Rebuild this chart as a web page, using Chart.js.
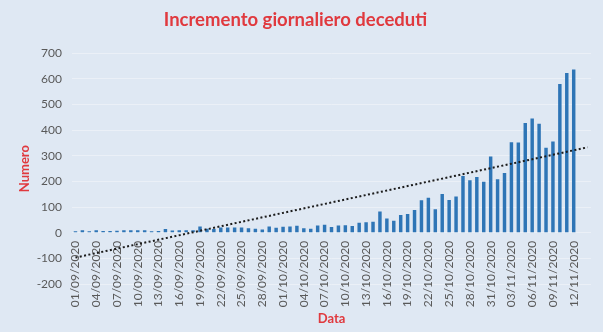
<!DOCTYPE html>
<html>
<head>
<meta charset="utf-8">
<script src="https://cdn.jsdelivr.net/npm/chart.js@4"></script>
<style>
html,body{margin:0;padding:0;background:#dfe8f3;}
#wrap{width:603px;height:332px;}
</style>
</head>
<body>
<div id="wrap"><canvas id="c" width="603" height="332"></canvas></div>
<script>
const categories = [
 '01/09/2020','02/09/2020','03/09/2020','04/09/2020','05/09/2020','06/09/2020','07/09/2020','08/09/2020','09/09/2020','10/09/2020',
 '11/09/2020','12/09/2020','13/09/2020','14/09/2020','15/09/2020','16/09/2020','17/09/2020','18/09/2020','19/09/2020','20/09/2020',
 '21/09/2020','22/09/2020','23/09/2020','24/09/2020','25/09/2020','26/09/2020','27/09/2020','28/09/2020','29/09/2020','30/09/2020',
 '01/10/2020','02/10/2020','03/10/2020','04/10/2020','05/10/2020','06/10/2020','07/10/2020','08/10/2020','09/10/2020','10/10/2020',
 '11/10/2020','12/10/2020','13/10/2020','14/10/2020','15/10/2020','16/10/2020','17/10/2020','18/10/2020','19/10/2020','20/10/2020',
 '21/10/2020','22/10/2020','23/10/2020','24/10/2020','25/10/2020','26/10/2020','27/10/2020','28/10/2020','29/10/2020','30/10/2020',
 '31/10/2020','01/11/2020','02/11/2020','03/11/2020','04/11/2020','05/11/2020','06/11/2020','07/11/2020','08/11/2020','09/11/2020',
 '10/11/2020','11/11/2020','12/11/2020','13/11/2020','14/11/2020'
];
const deceduti = [
 6,10,6,10,7,7,8,10,10,10,
 10,6,7,14,9,10,10,10,24,15,
 14,20,20,20,20,17,15,13,24,19,
 23,24,27,17,15,28,31,22,28,29,
 26,39,41,43,83,55,47,69,73,89,
 127,136,91,151,128,141,221,205,217,199,
 297,208,233,353,352,428,445,425,331,356,
 580,623,636
];
const trendX = ['01/09/2020','14/11/2020'];
const trendY = [-97, 333];
const yTicks = [-200,-100,0,100,200,300,400,500,600,700];

const FONT = 'Lato, "Open Sans", sans-serif';
const RED = '#e0393e';
const GREY = '#595959';

const bg = {
  id:'bg',
  beforeDraw(chart){
    const ctx = chart.ctx;
    ctx.save();
    ctx.fillStyle = '#dfe8f3';
    ctx.fillRect(0,0,chart.width,chart.height);
    ctx.restore();
  }
};

new Chart(document.getElementById('c'), {
  data: {
    labels: categories,
    datasets: [
      {
        type: 'bar',
        label: 'Deceduti',
        data: deceduti,
        backgroundColor: '#2e75b6',
        categoryPercentage: 1,
        barPercentage: 0.5,
        order: 2
      },
      {
        type: 'line',
        label: 'Trend',
        data: trendX.map((x,i)=>({x:x, y:trendY[i]})),
        borderColor: '#1c1c1c',
        borderWidth: 2,
        borderDash: [2,2.4],
        pointRadius: 0,
        fill: false,
        order: 1
      }
    ]
  },
  options: {
    responsive: false,
    animation: false,
    devicePixelRatio: 1,
    layout: { padding: { left: 0, right: 12, top: 9, bottom: 48 } },
    plugins: {
      legend: { display: false },
      tooltip: { enabled: false },
      title: {
        display: true,
        text: 'Incremento giornaliero deceduti',
        color: RED,
        font: { family: FONT, size: 18.5, weight: 'bold' },
        padding: { top: 0, bottom: 22 }
      }
    },
    scales: {
      x: {
        type: 'category',
        position: { y: 0 },
        offset: true,
        afterFit(s){ s.height -= 10; },
        grid: { display: false, drawTicks: false },
        border: { display: false },
        ticks: {
          autoSkip: false,
          minRotation: 90,
          maxRotation: 90,
          padding: 8,
          color: GREY,
          font: { family: FONT, size: 12 },
          callback: function(v, i){ return (i % 3 === 0 && i < deceduti.length) ? this.getLabelForValue(v) : null; }
        },
        title: {
          display: true,
          text: 'Data',
          color: RED,
          font: { family: FONT, size: 13, weight: 'bold' },
          padding: { top: 6, bottom: 0 }
        }
      },
      y: {
        min: -200,
        max: 700,
        afterFit(s){ s.width = 72; },
        afterBuildTicks(s){ s.ticks = yTicks.map(v=>({value:v})); },
        grid: { color: '#ebf0f7', lineWidth: 1, drawTicks: false },
        border: { display: false },
        ticks: {
          padding: 10,
          color: GREY,
          font: { family: FONT, size: 12 }
        },
        title: {
          display: true,
          text: 'Numero',
          color: RED,
          font: { family: FONT, size: 13, weight: 'bold' },
          padding: { top: 17, bottom: 4 }
        }
      }
    }
  },
  plugins: [bg]
});
</script>
</body>
</html>
